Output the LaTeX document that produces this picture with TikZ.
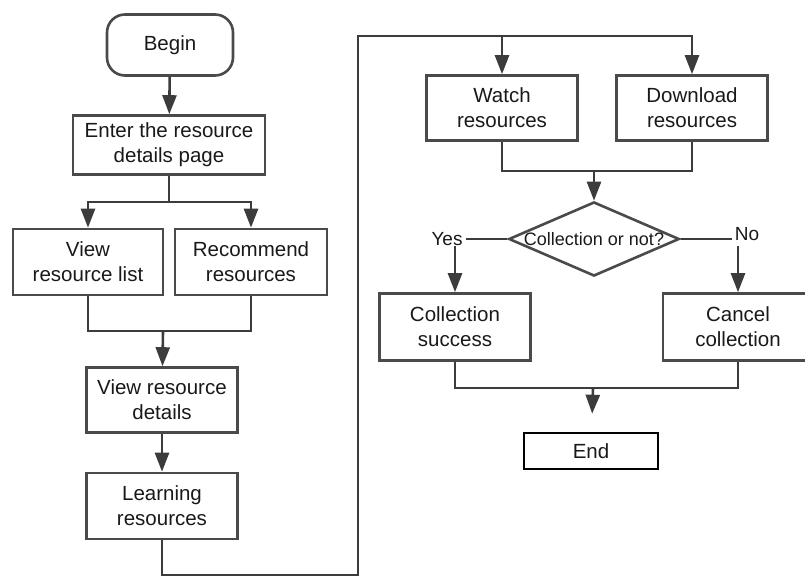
\documentclass[tikz,border=0pt]{standalone}
\usepackage{fontspec}
\setmainfont{Liberation Sans}
\usetikzlibrary{arrows.meta,shapes.geometric}
\definecolor{linegray}{HTML}{3C3C3C}
\definecolor{boxgray}{HTML}{4A4A4A}

\begin{document}
\begin{tikzpicture}[x=1pt,y=-1pt,->,>={Triangle[length=19pt,width=14pt]},
		line width=2.6pt,draw=linegray,text=black!90,
		font=\fontsize{20.5}{25}\selectfont]
		\tikzstyle{box}=[draw=boxgray,rectangle,align=center,minimum width=151pt,
		minimum height=66pt,inner sep=0pt]
		\tikzstyle{startstop}=[box,rounded corners=18pt,minimum width=126pt,minimum height=61pt]
		\tikzstyle{decision}=[draw=boxgray,diamond,aspect=2.3,inner sep=0pt,
		font=\fontsize{18}{20}\selectfont]
		\tikzstyle{label}=[inner sep=2pt,font=\fontsize{19}{22}\selectfont]
		
		\useasboundingbox (0,0) rectangle (805,577);
		
		% left column
		\node[startstop] (begin) at (170,45) {Begin};
		\node[box,minimum width=192pt,minimum height=59pt] (enter) at (169,145) {Enter the resource\\details page};
		\node[box,minimum width=150pt] (list) at (88,262) {View\\resource list};
		\node[box,minimum width=152pt] (recommend) at (251,262) {Recommend\\resources};
		\node[box,minimum height=65pt] (details) at (162,400) {View resource\\details};
		\node[box] (learning) at (162,506) {Learning\\resources};
		
		% right column
		\node[box,minimum height=65pt] (watch) at (502,108) {Watch\\resources};
		\node[box,minimum height=65pt] (download) at (692,108) {Download\\resources};
		\node[decision] (check) at (594,239) {Collection or not?};
		\node[label] (yes) at (447,239) {Yes};
		\node[label] (no) at (747,234) {No};
		\node[box,minimum height=67pt] (success) at (455,327) {Collection\\success};
		\node[box,minimum width=150pt,minimum height=67pt] (cancel) at (738,327) {Cancel\\collection};
		\node[box,draw=black,minimum width=134pt,minimum height=36pt] (end) at (591,451) {End};
		
		\coordinate (split1) at (169,202);
		\coordinate (merge1) at (163,331);
		\coordinate (loopA) at (358,575);
		\coordinate (loopB) at (358,36);
		\coordinate (merge2) at (594,171);
		\coordinate (merge3) at (593,388);
		
		\draw (begin) -- (enter);
		\draw (enter) -- (split1) -| (list);
		\draw (split1) -| (recommend);
		\draw[-] (list) |- (merge1);
		\draw[-] (recommend) |- (merge1);
		\draw (merge1) -- (details);
		\draw (details) -- (learning);
		\draw (learning) |- (loopA) -- (loopB) -| (watch);
		\draw (loopB) -| (download);
		\draw[-] (watch) |- (merge2);
		\draw[-] (download) |- (merge2);
		\draw (merge2) -- (check);
		\draw[-] (check) -- (yes);
		\draw[-] (check.east) -- (no.west |- check.east);
		\draw ([yshift=3pt]success.north |- yes.south) -- (success);
		\draw ([yshift=3pt]cancel.north |- yes.south) -- (cancel);
		\draw[-] (success) |- (merge3);
		\draw[-] (cancel) |- (merge3);
		\draw[shorten >=18pt] (merge3) -- (end);
		\end{tikzpicture}
\end{document}
